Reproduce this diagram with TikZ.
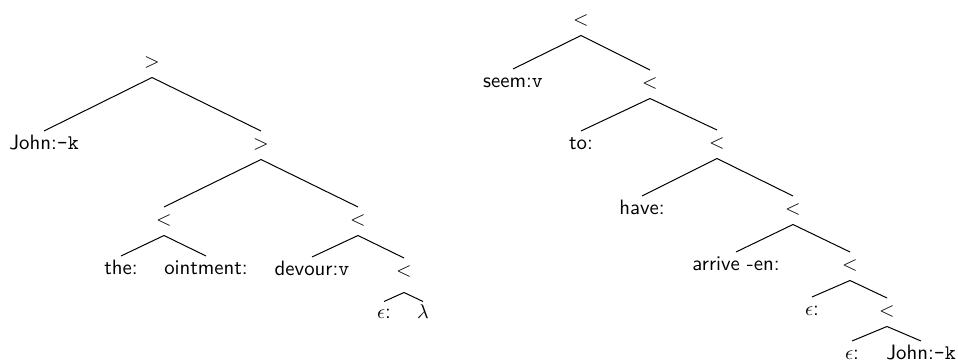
\documentclass[tikz,border=0pt]{standalone}
\begin{document}
\begin{tikzpicture}[x=0.5pt,y=-0.5pt,
  every node/.style={anchor=base,inner sep=0pt,text height=9.25pt,text depth=4.5pt,
    font=\sffamily\fontsize{10.4}{12}\selectfont},
  every path/.style={line width=0.5pt}]
\useasboundingbox (0,0) rectangle (958,362);
% left tree
\node (L0) at (152,68) {$>$};
\node (Ljohn) at (44,150) {John:\texttt{-k}};
\node (L1) at (261,150) {$>$};
\node (L2) at (164,226) {$<$};
\node (L3) at (358,226) {$<$};
\node (Lthe) at (121,275) {the:};
\node (Loint) at (206,275) {ointment:};
\node (Ldev) at (312,276) {devour:\texttt{v}};
\node[text depth=7.5pt] (L4) at (404,277) {$<$};
\node[text height=8.5pt] (Leps) at (384,319) {$\epsilon$:};
\node[text height=8.5pt] (Llam) at (423,319) {$\lambda$};
\draw (L0.south) -- (Ljohn.north);
\draw (L0.south) -- (L1.north);
\draw (L1.south) -- (L2.north);
\draw (L1.south) -- (L3.north);
\draw (L2.south) -- (Lthe.north);
\draw (L2.south) -- (Loint.north);
\draw (L3.south) -- (Ldev.north);
\draw (L3.south) -- (L4.north);
\draw (L4.south) -- (Leps.north);
\draw (L4.south) -- (Llam.north);
% right tree
\node (R0) at (581,26) {$<$};
\node (Rseem) at (513,88) {seem:\texttt{v}};
\node (R1) at (650,89) {$<$};
\node (Rto) at (581,150) {to:};
\node (R2) at (717,149) {$<$};
\node (Rhave) at (642,215) {have:};
\node (R3) at (793,215) {$<$};
\node (Rarr) at (736,271) {arrive -en:};
\node (R4) at (850,271) {$<$};
\node (Reps1) at (812,316) {$\epsilon$:};
\node (R5) at (887,317) {$<$};
\node (Reps2) at (852,360) {$\epsilon$:};
\node (Rjohn) at (921,360) {John:\texttt{-k}};
\draw (R0.south) -- (Rseem.north);
\draw (R0.south) -- (R1.north);
\draw (R1.south) -- (Rto.north);
\draw (R1.south) -- (R2.north);
\draw (R2.south) -- (Rhave.north);
\draw (R2.south) -- (R3.north);
\draw (R3.south) -- (Rarr.north);
\draw (R3.south) -- (R4.north);
\draw (R4.south) -- (Reps1.north);
\draw (R4.south) -- (R5.north);
\draw (R5.south) -- (Reps2.north);
\draw (R5.south) -- (Rjohn.north);
\end{tikzpicture}
\end{document}
